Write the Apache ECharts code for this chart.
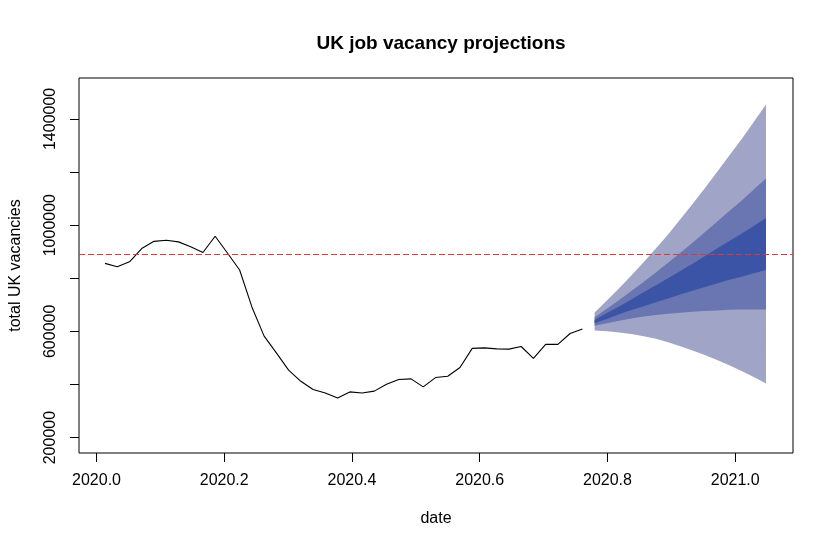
<!DOCTYPE html>
<html>
<head>
<meta charset="utf-8">
<script src="https://cdn.jsdelivr.net/npm/echarts@6/dist/echarts.min.js"></script>
<style>html,body{margin:0;padding:0;background:#fff;}#c{width:834px;height:550px;}</style>
</head>
<body>
<div id="c"></div>
<script>
// ---- data ----
const startDate = 2020.0133;          // first weekly observation (decimal year)
const weekStep = 7 / 365.25;          // weekly spacing
const vacancies = [856000, 843000, 862000, 912000, 939000, 943000, 937000, 919000, 897000, 958000,
  895000, 831000, 692000, 582000, 519000, 454000, 412000, 381000, 368000, 349000,
  372000, 368000, 375000, 401000, 419000, 421000, 391000, 426000, 431000, 464000,
  536000, 538000, 534000, 533000, 543000, 498000, 551000, 551000, 592000, 609000];
// forecast fan bounds, 15 weeks after the last observation
const outerLo = [603000, 600000, 596000, 590000, 582000, 572000, 559000, 544000, 528000, 511000, 492000, 472000, 451000, 428000, 404000];
const outerHi = [671000, 716000, 762000, 810000, 860000, 912000, 965000, 1022000, 1080000, 1139000, 1200000, 1262000, 1323000, 1388000, 1454000];
const midLo = [621000, 631000, 640000, 648000, 656000, 662000, 666000, 670000, 674000, 677000, 679000, 681000, 682000, 682000, 682000];
const midHi = [653000, 685000, 718000, 752000, 786000, 822000, 858000, 896000, 934000, 973000, 1013000, 1053000, 1092000, 1134000, 1176000];
const innerLo = [631000, 647000, 664000, 680000, 695000, 710000, 724000, 739000, 753000, 767000, 780000, 794000, 806000, 819000, 831000];
const innerHi = [643000, 669000, 694000, 720000, 747000, 774000, 800000, 827000, 855000, 883000, 912000, 940000, 968000, 997000, 1027000];
const thresholdLevel = 892000;
const xTicks = [2020.0, 2020.2, 2020.4, 2020.6, 2020.8, 2021.0];
const yTicks = [200000, 400000, 600000, 800000, 1000000, 1200000, 1400000];
const yLabels = [200000, 600000, 1000000, 1400000];

// ---- build ----
const obsDates = vacancies.map((_, i) => startDate + i * weekStep);
const lastDate = obsDates[obsDates.length - 1];
const fcDates = outerLo.map((_, k) => lastDate + (k + 1) * weekStep);
const lineData = vacancies.map((v, i) => [obsDates[i], v]);
const bands = [
  {lo: outerLo, hi: outerHi, color: '#A0A5C8'},
  {lo: midLo, hi: midHi, color: '#6A76B2'},
  {lo: innerLo, hi: innerHi, color: '#3B54A5'}
];

const FONT = "'Liberation Sans', Arial, sans-serif";
const chart = echarts.init(document.getElementById('c'), null, {renderer: 'canvas'});
chart.setOption({
  animation: false,
  backgroundColor: '#ffffff',
  title: {
    text: 'UK job vacancy projections',
    left: 436, top: 29, textAlign: 'center',
    textStyle: {fontFamily: FONT, fontSize: 19, fontWeight: 'bold', color: '#000'}
  },
  grid: {left: 79, right: 41, top: 78, bottom: 97, show: true, borderColor: '#000', borderWidth: 1, backgroundColor: 'transparent'},
  xAxis: {
    type: 'value', min: 2019.9726, max: 2021.0905,
    name: 'date', nameLocation: 'middle', nameGap: 58,
    nameTextStyle: {fontFamily: FONT, fontSize: 16, color: '#000'},
    axisLine: {show: false},
    splitLine: {show: false},
    axisTick: {show: true, length: 9, lineStyle: {color: '#000'}, customValues: xTicks},
    axisLabel: {fontFamily: FONT, fontSize: 16, color: '#000', margin: 20, customValues: xTicks,
      formatter: v => v.toFixed(1), showMinLabel: true, showMaxLabel: true}
  },
  yAxis: {
    type: 'value', min: 142000, max: 1554000,
    name: 'total UK vacancies', nameLocation: 'middle', nameGap: 55, nameRotate: 90,
    nameTextStyle: {fontFamily: FONT, fontSize: 16, color: '#000'},
    axisLine: {show: false},
    splitLine: {show: false},
    axisTick: {show: true, length: 9, lineStyle: {color: '#000'}, customValues: yTicks},
    axisLabel: {fontFamily: FONT, fontSize: 16, color: '#000', margin: 20, rotate: 90, customValues: yLabels,
      formatter: v => String(Math.round(v))}
  },
  series: [
    {
      type: 'custom',
      z: 2,
      data: bands.map((_, i) => i),
      renderItem: function (params, api) {
        const b = bands[api.value(0)];
        const pts = [];
        for (let k = 0; k < fcDates.length; k++) pts.push(api.coord([fcDates[k], b.hi[k]]));
        for (let k = fcDates.length - 1; k >= 0; k--) pts.push(api.coord([fcDates[k], b.lo[k]]));
        return {type: 'polygon', shape: {points: pts}, style: {fill: b.color, stroke: null}};
      },
      encode: {x: -1, y: -1},
      silent: true
    },
    {
      type: 'line',
      z: 3,
      data: lineData,
      showSymbol: false,
      lineStyle: {color: '#000', width: 1.1},
      markLine: {
        silent: true, symbol: 'none', label: {show: false},
        lineStyle: {color: '#D83A3A', width: 1, type: [6, 3]},
        data: [{yAxis: thresholdLevel}]
      }
    }
  ]
});
</script>
</body>
</html>
